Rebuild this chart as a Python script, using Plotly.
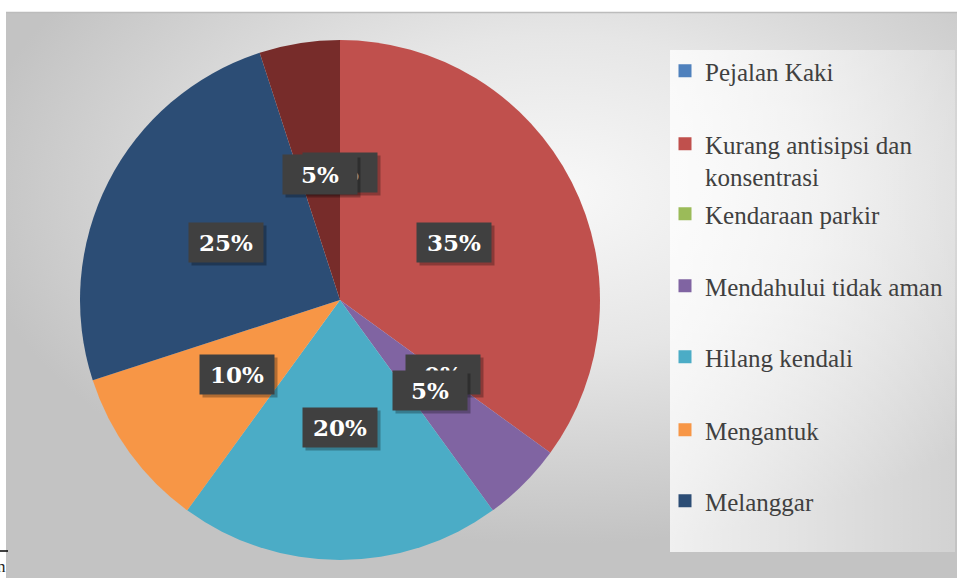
import base64
import math
import plotly.graph_objects as go

# data
labels = ["Pejalan Kaki", "Kurang antisipsi dan konsentrasi", "Kendaraan parkir",
          "Mendahului tidak aman", "Hilang kendali", "Mengantuk", "Melanggar", "Lainnya"]
legend_names = ["Pejalan Kaki", "Kurang antisipsi dan<br>konsentrasi", "Kendaraan parkir",
                "Mendahului tidak aman", "Hilang kendali", "Mengantuk", "Melanggar"]
values = [0, 35, 0, 5, 20, 10, 25, 5]
colors = ["#4F81BD", "#C0504D", "#9BBB59", "#8064A2", "#4BACC6", "#F79646", "#2C4D75", "#772C2A"]
# first-line centre (px from top) of each legend entry
legend_rows = [72, 145, 215, 287, 358, 431, 502]

W, H = 957, 578
cx, cy, r = 340, 300, 260  # pie centre / radius in px

# background: radial grey gradient + legend panel (no css gradients in plotly)
svg = f'''<svg xmlns="http://www.w3.org/2000/svg" width="{W}" height="{H}" viewBox="0 0 {W} {H}">
<defs>
<radialGradient id="g" cx="0.58" cy="0.32" r="0.62">
<stop offset="0" stop-color="#f8f8f8"/><stop offset="0.45" stop-color="#e6e6e6"/><stop offset="1" stop-color="#c3c3c3"/>
</radialGradient>
<linearGradient id="lg" x1="0" x2="1" y1="0" y2="0">
<stop offset="0" stop-color="#ffffff" stop-opacity="0.75"/><stop offset="1" stop-color="#ffffff" stop-opacity="0.25"/>
</linearGradient>
</defs>
<rect width="{W}" height="{H}" fill="#ffffff"/>
<rect x="6" y="12" width="{W-6}" height="{H-12}" fill="url(#g)"/>
<line x1="6" y1="12.5" x2="{W}" y2="12.5" stroke="#bcbcbc" stroke-width="1.5"/>
<rect x="670" y="50" width="285" height="502" fill="url(#lg)"/>
</svg>'''
bg_src = "data:image/svg+xml;base64," + base64.b64encode(svg.encode()).decode()

fig = go.Figure()
fig.add_trace(go.Pie(
    labels=labels, values=values,
    marker=dict(colors=colors, line=dict(width=0)),
    sort=False, direction="clockwise", rotation=0,
    textinfo="none", hoverinfo="label+percent", showlegend=False,
    domain=dict(x=[(cx - r) / W, (cx + r) / W], y=[1 - (cy + r) / H, 1 - (cy - r) / H]),
))

# legend entries (own legends so the rows can sit where Excel put them)
legend_font = dict(family="Liberation Serif", size=25, color="#404040")
layout_legends = {}
for i, (name, col) in enumerate(zip(legend_names, colors)):
    key = "legend" if i == 0 else f"legend{i+1}"
    fig.add_trace(go.Scatter(x=[None], y=[None], mode="markers", name=name,
                             marker=dict(symbol="square", size=13, color=col),
                             legend=key, showlegend=True))
    layout_legends[key] = dict(x=665 / W, y=1 - (legend_rows[i] - 24) / H,
                               xanchor="left", yanchor="top", valign="top",
                               bgcolor="rgba(0,0,0,0)", font=legend_font,
                               itemclick=False, itemdoubleclick=False)

# data labels: dark boxes at half radius on each slice's mid-angle
total = sum(values)
annotations = []
cum = 0
for v in values:
    mid = (cum + v / 2) / total * 2 * math.pi
    cum += v
    px = cx + 0.49 * r * math.sin(mid)
    py = cy - 0.49 * r * math.cos(mid)
    txt = f"<b>{round(v / total * 100)}%</b>"
    common = dict(x=px / W, y=1 - py / H, xref="paper", yref="paper", showarrow=False,
                  xanchor="center", yanchor="middle",
                  text=txt, width=62, height=27, borderpad=6,
                  font=dict(family="DejaVu Serif", size=23))
    annotations.append(dict(common, bgcolor="rgba(0,0,0,0.28)", xshift=3, yshift=-3,
                            font=dict(common["font"], color="rgba(0,0,0,0)")))
    annotations.append(dict(common, bgcolor="#404040", font=dict(common["font"], color="#ffffff")))

# stray bits of the source document in the bottom-left corner
annotations.append(dict(x=8 / W, y=1 - 566 / H, xref="paper", yref="paper", showarrow=False,
                        text="n", xanchor="right", yanchor="middle",
                        font=dict(family="Liberation Serif", size=17, color="#222222")))

fig.update_layout(
    width=W, height=H, autosize=False,
    margin=dict(l=0, r=0, t=0, b=0),
    paper_bgcolor="#ffffff", plot_bgcolor="rgba(0,0,0,0)",
    xaxis=dict(visible=False), yaxis=dict(visible=False),
    images=[dict(source=bg_src, xref="paper", yref="paper", x=0, y=1, sizex=1, sizey=1,
                 xanchor="left", yanchor="top", sizing="stretch", layer="below")],
    shapes=[dict(type="line", xref="paper", yref="paper", x0=0, x1=8 / W,
                 y0=1 - 551 / H, y1=1 - 551 / H, line=dict(color="#000000", width=1.5))],
    annotations=annotations,
    **layout_legends,
)

fig.write_html("out.html", config={"displayModeBar": False},
               post_script="document.body.style.margin='0';")
